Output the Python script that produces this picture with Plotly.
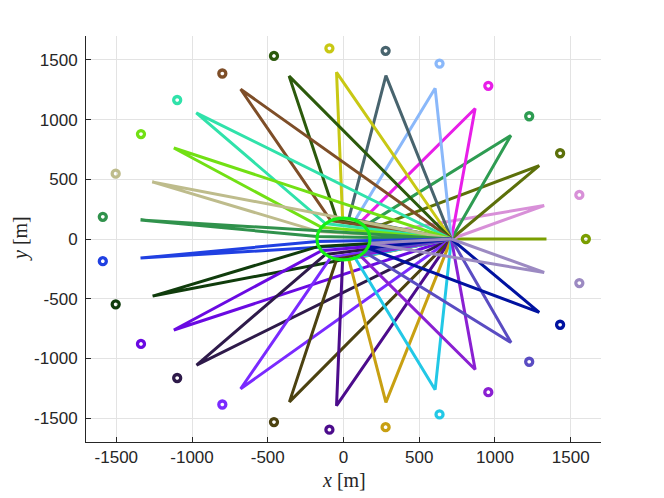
import plotly.graph_objects as go

# ===== データ =====
# 収束点
conv_x = 712
conv_y = 0

# 外側の点（r=1600）
mark_x = [1600, 1557, 1430, 1226, 956, 634, 278, -93, -459, -800, -1098, -1337, -1504, -1589,
          -1589, -1504, -1337, -1098, -800, -459, -93, 278, 634, 956, 1226, 1430, 1557]
mark_y = [0, 369, 718, 1028, 1283, 1469, 1576, 1597, 1533, 1386, 1164, 879, 547, 186,
          -186, -547, -879, -1164, -1386, -1533, -1597, -1576, -1469, -1283, -1028, -718, -369]

# 三角形の先端
tip_x = [1340, 1325, 1292, 1105, 869, 605, 280, -46, -359, -679, -972, -1120, -1263, -1340,
         -1340, -1260, -1120, -970, -679, -357, -46, 280, 605, 869, 1106, 1292, 1325]
tip_y = [0, 280, 614, 867, 1093, 1262, 1368, 1396, 1364, 1254, 1056, 762, 478, 160,
         -160, -478, -762, -1056, -1254, -1364, -1396, -1368, -1262, -1093, -867, -614, -280]

# 円周上の点（r=175）
cir_x = [175, 171, 158, 138, 109, 76, 35, -6, -45, -84, -119, -145, -164, -174,
         -174, -164, -145, -119, -84, -45, -6, 35, 76, 109, 138, 158, 171]
cir_y = [0, 36, 75, 108, 137, 158, 171, 175, 169, 154, 129, 98, 62, 20,
         -20, -62, -98, -129, -154, -169, -175, -171, -158, -137, -108, -75, -36]

circle_r = 175

colors = ["#7a9e00", "#d890d8", "#5c700a", "#2e9c52", "#e81ee8", "#8ab8fa", "#48646e",
          "#c8c814", "#2c5a0c", "#7e4e28", "#30e2aa", "#72e014", "#bebc8c", "#30924c",
          "#2040e2", "#103c0c", "#6a0ae2", "#2e1a4a", "#7a2aff", "#4c4210", "#4c0c8c",
          "#c8a012", "#22c8e6", "#8a20d2", "#5a4cc2", "#0012a0", "#9c8ac2"]

tick_vals = [-1500, -1000, -500, 0, 500, 1000, 1500]
tick_text = ["-1500", "-1000", "-500", "0", "500", "1000", "1500"]

# ===== 描画 =====
fig = go.Figure()

for i in range(len(colors)):
    fig.add_trace(go.Scatter(
        x=[conv_x, tip_x[i], cir_x[i], conv_x],
        y=[conv_y, tip_y[i], cir_y[i], conv_y],
        mode="lines",
        line=dict(color=colors[i], width=3),
        hoverinfo="skip"
    ))
    fig.add_trace(go.Scatter(
        x=[mark_x[i]],
        y=[mark_y[i]],
        mode="markers",
        marker=dict(symbol="circle-open", size=7, color=colors[i],
                    line=dict(width=3.3, color=colors[i])),
        hoverinfo="skip"
    ))

fig.add_shape(
    type="circle", xref="x", yref="y",
    x0=-circle_r, x1=circle_r, y0=-circle_r, y1=circle_r,
    line=dict(color="#14f014", width=3.2), layer="above"
)

axis_style = dict(
    range=[-1700, 1700],
    showgrid=True, gridcolor="#e3e3e3", gridwidth=1,
    zeroline=False,
    showline=True, linecolor="#262626", linewidth=1,
    ticks="inside", ticklen=5, tickcolor="#262626",
    tickfont=dict(family="Liberation Sans, Arial", size=17, color="#262626"),
    tickvals=tick_vals, ticktext=tick_text,
    mirror=False,
)

# ページ余白(8px)の分だけずらす
fig.update_layout(
    width=664, height=498,
    margin=dict(l=78, r=71, t=28, b=64),
    paper_bgcolor="white", plot_bgcolor="white",
    showlegend=False,
    xaxis=dict(axis_style, ticklabelstandoff=0),
    yaxis=dict(axis_style, ticklabelstandoff=4),
    annotations=[
        dict(text="<i>x</i> [m]", xref="paper", yref="paper", x=0.5, y=0,
             xanchor="center", yanchor="top", yshift=-25, showarrow=False,
             font=dict(family="Liberation Serif, serif", size=20, color="#262626")),
        dict(text="<i>y</i> [m]", xref="paper", yref="paper", x=0, y=0.5,
             xanchor="center", yanchor="middle", xshift=-66, textangle=-90, showarrow=False,
             font=dict(family="Liberation Serif, serif", size=20, color="#262626")),
    ]
)

fig.write_html("out.html")
